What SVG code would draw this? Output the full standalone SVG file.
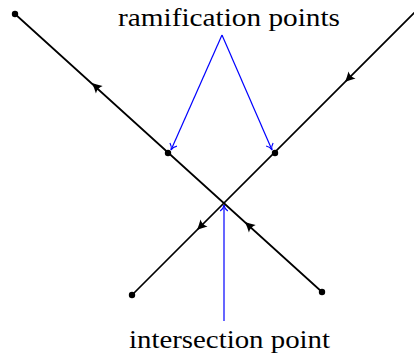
<svg xmlns="http://www.w3.org/2000/svg" width="414" height="359" viewBox="0 0 414 359">
<style>
.ln{stroke:#000;stroke-width:1.7;fill:none;stroke-linecap:round}
.bl{stroke:#0000ff;stroke-width:1.2;fill:none}
.dot{fill:#000}
.lbl{font-family:"Liberation Serif","Times New Roman",serif;font-size:26px;fill:#000;text-anchor:middle}
</style>
<defs>
<path id="ah" d="M1.5,0 Q-3,-1.8 -8.5,-5 Q-5.8,0 -8.5,5 Q-3,1.8 1.5,0 Z" fill="#000"/>
<path id="bh" d="M-6,-3.8 C-4.2,-1.3 -2,-0.3 0,0 C-2,0.3 -4.2,1.3 -6,3.8" stroke="#0000ff" stroke-width="1.2" fill="none"/>
</defs>
<g id="connectors">
<line class="ln" x1="15" y1="14" x2="322" y2="292"/>
<line class="ln" x1="420" y1="7" x2="132" y2="295"/>
<use href="#ah" transform="translate(93,84) rotate(222.16)"/>
<use href="#ah" transform="translate(246,223) rotate(222.16)"/>
<use href="#ah" transform="translate(346,81) rotate(135)"/>
<use href="#ah" transform="translate(198,229) rotate(135)"/>
<path class="bl" d="M222,35 L171,150"/>
<path class="bl" d="M222,35 L272,150"/>
<path class="bl" d="M224,321 L224,205"/>
<use href="#bh" transform="translate(171,150) rotate(113.9)"/>
<use href="#bh" transform="translate(272,150) rotate(66.5)"/>
<use href="#bh" transform="translate(224,205) rotate(-90)"/>
</g>
<g id="end-top-left"><circle class="dot" cx="15" cy="14" r="3.2"/></g>
<g id="end-bottom-left"><circle class="dot" cx="132" cy="295" r="3.2"/></g>
<g id="end-bottom-right"><circle class="dot" cx="322" cy="292" r="3.2"/></g>
<g id="ramification-left"><circle class="dot" cx="168" cy="153" r="3.2"/></g>
<g id="ramification-right"><circle class="dot" cx="275" cy="153" r="3.2"/></g>
<g id="label-ramification"><text class="lbl" x="229" y="26" textLength="222" lengthAdjust="spacingAndGlyphs">ramification points</text></g>
<g id="label-intersection"><text class="lbl" x="229.5" y="348" textLength="201" lengthAdjust="spacingAndGlyphs">intersection point</text></g>
</svg>
